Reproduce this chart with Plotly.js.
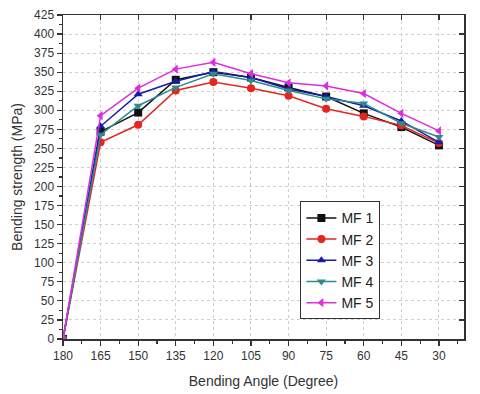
<!DOCTYPE html>
<html>
<head>
<meta charset="utf-8">
<script src="https://cdn.plot.ly/plotly-3.0.1.min.js"></script>
<style>
  html, body { margin: 0; padding: 0; background: #fff; }
  #chart { width: 480px; height: 394px; }
</style>
</head>
<body>
<div id="chart"></div>
<script>
// Bending angle (degrees) and strength (MPa) per sample
const angles = [180, 165, 150, 135, 120, 105, 90, 75, 60, 45, 30];
const mf1 = [0, 272, 297, 340, 350, 343, 330, 318, 296, 278, 254];
const mf2 = [0, 258, 281, 326, 337, 329, 319, 302, 292, 280, 257];
const mf3 = [0, 279, 321, 338, 351, 343, 328, 318, 306, 286, 258];
const mf4 = [0, 268, 306, 330, 348, 339, 326, 315, 309, 283, 265];
const mf5 = [0, 293, 329, 354, 363, 348, 336, 332, 322, 296, 273];

const seriesNames = ['MF 1', 'MF 2', 'MF 3', 'MF 4', 'MF 5'];
const seriesData = [mf1, mf2, mf3, mf4, mf5];
const colors = ['#111111', '#e3261f', '#1a1aa8', '#2a8c8c', '#dd2ddd'];
const symbols = ['square', 'circle', 'triangle-up', 'triangle-down', 'triangle-left'];

const traces = seriesData.map((ys, i) => ({
    x: angles,
    y: ys,
    type: 'scatter',
    mode: 'lines+markers',
    name: seriesNames[i],
    line: { color: colors[i], width: 1.5 },
    marker: { color: colors[i], symbol: symbols[i], size: 8 },
}));

const axisFont = { family: 'Arial, Liberation Sans, sans-serif', size: 12, color: '#333' };

const layout = {
    width: 480,
    height: 394,
    margin: { l: 63, r: 16, t: 15, b: 55 },
    plot_bgcolor: '#fff',
    paper_bgcolor: '#fff',
    font: axisFont,
    showlegend: true,
    legend: {
        x: 0.592, y: 0.425, xanchor: 'left', yanchor: 'top',
        bordercolor: '#333', borderwidth: 1, bgcolor: '#fff',
        font: { family: 'Arial, Liberation Sans, sans-serif', size: 14, color: '#222' },
        tracegroupgap: 0, itemwidth: 30,
    },
    xaxis: {
        range: [180, 20],
        tickvals: angles,
        ticks: 'outside', ticklen: 5, tickwidth: 1.2, tickcolor: '#333',
        minor: { dtick: 7.5, tick0: 180, ticks: 'outside', ticklen: 3, tickcolor: '#333', showgrid: false },
        showline: true, linecolor: '#333', linewidth: 1.5,
        showgrid: true, gridcolor: '#cfcfcf', griddash: 'dot', gridwidth: 1,
        zeroline: false,
        title: { text: 'Bending Angle (Degree)', font: { size: 14, color: '#333' }, standoff: 14 },
    },
    yaxis: {
        range: [0, 425],
        dtick: 25,
        ticks: 'outside', ticklen: 5, tickwidth: 1.2, tickcolor: '#333',
        minor: { dtick: 12.5, ticks: 'outside', ticklen: 3, tickcolor: '#333', showgrid: false },
        showline: true, linecolor: '#333', linewidth: 1.5,
        showgrid: true, gridcolor: '#cfcfcf', griddash: 'dot', gridwidth: 1,
        zeroline: false,
        title: { text: 'Bending strength (MPa)', font: { size: 14, color: '#333' }, standoff: 8 },
    },
    // mirrored frame with inward ticks on top and right
    xaxis2: {
        overlaying: 'x', side: 'top', range: [180, 20], tickvals: angles,
        ticks: 'inside', ticklen: 5, tickwidth: 1.2, tickcolor: '#333',
        showticklabels: false, showgrid: false, zeroline: false,
        showline: true, linecolor: '#333', linewidth: 1.5,
    },
    yaxis2: {
        overlaying: 'y', side: 'right', range: [0, 425], dtick: 25,
        ticks: 'inside', ticklen: 5, tickwidth: 1.2, tickcolor: '#333',
        showticklabels: false, showgrid: false, zeroline: false,
        showline: true, linecolor: '#333', linewidth: 1.5,
    },
};

// dummy invisible trace so the overlay axes are drawn
traces.push({
    x: [180], y: [0], xaxis: 'x2', yaxis: 'y2',
    mode: 'markers', marker: { opacity: 0 }, showlegend: false, hoverinfo: 'skip',
});

Plotly.newPlot('chart', traces, layout, { displayModeBar: false, staticPlot: true });
</script>
</body>
</html>
